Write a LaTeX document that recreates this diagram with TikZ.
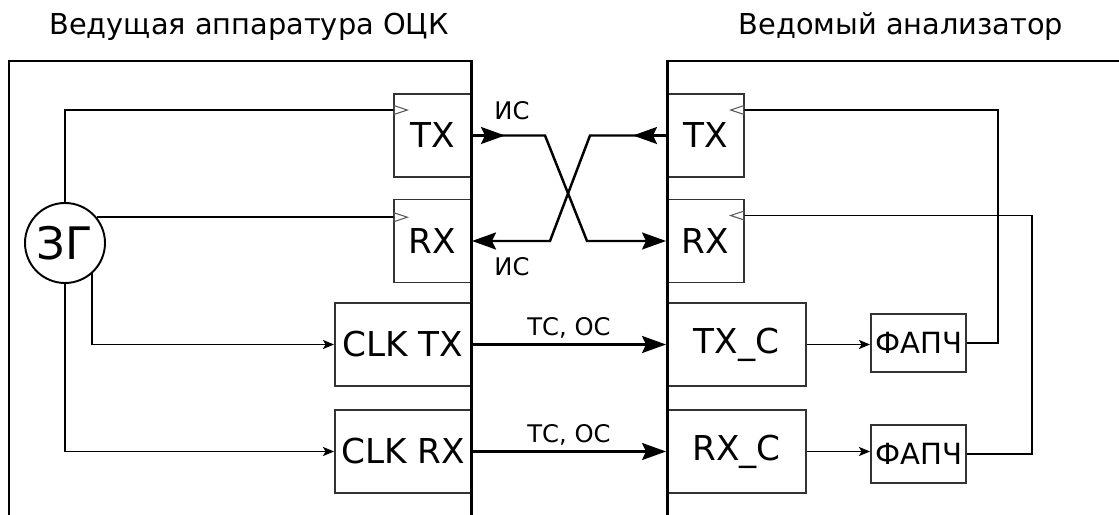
\documentclass[tikz,border=0pt]{standalone}
\usepackage{fontspec}
\setmainfont{DejaVu Sans}
\usetikzlibrary{calc,arrows.meta}
\tikzset{>={Stealth[length=2.2mm,width=1.8mm,inset=0.5mm]},
  frame/.style={line width=1.7pt},
  box/.style={draw=black!80,line width=1.1pt,inner sep=0pt,minimum width=15.4mm,
    minimum height=16.6mm,font=\fontsize{19.5}{19.5}\selectfont},
  pll/.style={draw=black!80,line width=1.1pt,inner sep=0pt,minimum width=19mm,
    minimum height=11.6mm,font=\fontsize{16.6}{16.6}\selectfont},
  gen/.style={circle,draw,line width=1.1pt,inner sep=0pt,minimum size=16mm,
    font=\fontsize{25.5}{25.5}\selectfont},
  title/.style={anchor=base,font=\fontsize{16.4}{16.4}\selectfont},
  lbl/.style={inner sep=0pt,font=\fontsize{13.8}{13.8}\selectfont},
  wire/.style={line width=1.1pt},
  clk/.style={line width=1.1pt,-{Triangle[open,length=3.1mm,width=2mm,line width=0.6pt,color=black!65]}},
  sig/.style={line width=1.4pt,-{Stealth[length=4.8mm,width=3.4mm,inset=0.8mm]}}}

\begin{document}
\begin{tikzpicture}[x=0.2mm,y=-0.2mm]
    \useasboundingbox (0,0) rectangle (1119,515);
    \node[title] (titleL) at (249,35) {Ведущая аппаратура ОЦК};
    \node[title] (titleR) at (901,35) {Ведомый анализатор};

    \node[gen] (zg) at (65,243) {ЗГ};
    \node[box] (txL) at (432.5,135.5) {TX};
    \node[box] (rxL) at (432.5,241) {RX};
    \node[box,minimum width=27.2mm] (clkT) at (403,344.5) {CLK TX};
    \node[box,minimum width=27.2mm] (clkR) at (403,451.5) {CLK RX};
    \node[box] (txR) at (705.5,135.5) {TX};
    \node[box] (rxR) at (705.5,241) {RX};
    \node[box,minimum width=27.8mm] (txC) at (736.5,344.5) {TX\_C};
    \node[box,minimum width=27.8mm] (rxC) at (736.5,451.5) {RX\_C};
    \node[pll] (pllT) at (918.5,343) {ФАПЧ};
    \node[pll] (pllR) at (918.5,454) {ФАПЧ};

    \draw[frame] (9,515) |- (471,61) -- (471,515);
    \draw[frame] (1119,61) -| (667,515);

    \coordinate (txLc) at ($(txL.north west)+(16,17)$);
    \coordinate (rxLc) at ($(rxL.north west)+(16,17)$);
    \coordinate (txRc) at ($(txR.north east)+(-16,17)$);
    \coordinate (rxRc) at ($(rxR.north east)+(-16,17)$);
    \draw[clk] (zg.north) |- (txLc);
    \draw[clk] (zg.39) -- (zg.39 -| rxLc);
    \draw[wire,->] (zg.-48) |- (clkT.west);
    \draw[wire,->] (zg.south) |- (clkR.west);

    \coordinate (xa) at (545,135.5);
    \coordinate (xb) at (587,241);
    \coordinate (ya) at (590,135.5);
    \coordinate (yb) at (550,241);
    \draw[sig] (txL.east) -- ++(33,0);
    \draw[sig] (txL.east) -- (xa) -- (xb) -- (rxR.west);
    \draw[sig] (txR.west) -- ++(-33,0);
    \draw[sig] (txR.west) -- (ya) -- (yb) -- (rxL.east);
    \node[lbl] (isT) at (512,111) {ИС};
    \node[lbl] (isB) at (512,267) {ИС};

    \draw[sig] (clkT.east) -- node[lbl,above=1mm] (tsT) {ТС, ОС} (txC.west);
    \draw[sig] (clkR.east) -- node[lbl,above=1mm] (tsR) {ТС, ОС} (rxC.west);

    \draw[wire,->] (txC.east) -- (txC.east -| pllT.west);
    \draw[wire,->] (rxC.east) -- (rxC.east -| pllR.west);
    \draw[clk] (pllT.east) -- ++(31,0) |- (txRc);
    \draw[clk] (pllR.east) -- ++(65,0) |- (rxRc);
\end{tikzpicture}
\end{document}
